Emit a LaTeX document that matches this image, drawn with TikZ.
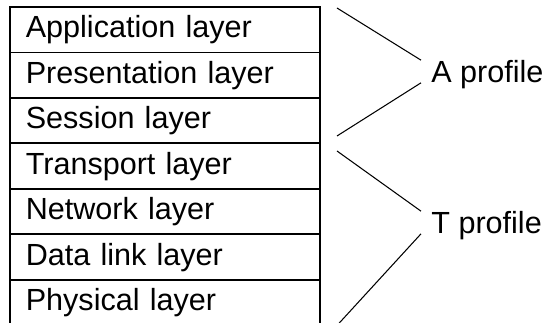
\documentclass[tikz,border=0pt]{standalone}
\usepackage{fontspec}
\setmainfont{Liberation Sans}
\usetikzlibrary{positioning}

\begin{document}
\begin{tikzpicture}[
							x=0.02cm, y=-0.02cm,
							layerbox/.style={rectangle, draw=black, line width=1.1pt, outer sep=0pt, minimum width=6.2cm, minimum height=0.91cm, inner xsep=9pt, inner ysep=0pt, text width=6.2cm-18pt, align=left, font=\fontsize{17.4}{21}\selectfont},
							profile/.style={anchor=west, inner xsep=5.7pt, inner ysep=0pt, text height=12.5pt, text depth=0pt, font=\fontsize{17.4}{21}\selectfont},
							link/.style={line width=0.6pt},
							]
							\useasboundingbox (0,0) rectangle (549,323);
							%Nodes
							\node[layerbox, anchor=north west] (app) 	at 	(10,7) 	{Application layer};
							\node[layerbox, below=0pt of app] 	(pres) 		{Presentation layer};
							\node[layerbox, below=0pt of pres] 	(sess) 		{Session layer};
							\node[layerbox, below=0pt of sess] 	(trans) 	{Transport layer};
							\node[layerbox, below=0pt of trans] 	(net) 		{Network layer};
							\node[layerbox, below=0pt of net] 	(link) 		{Data link layer};
							\node[layerbox, below=0pt of link] 	(phys) 		{Physical layer};
							\node[profile] 		(aprof) 	at 	(421,71.5) 	{A profile};
							\node[profile] 		(tprof) 	at 	(421,222.5) 	{T profile};
							
							%Braces
							\coordinate (a1) at (337,8);
							\coordinate (a2) at (337,136);
							\coordinate (t1) at (337,151);
							\coordinate (t2) at (337,325.5);
							\draw[link] (a1) -- (aprof.north west);
							\draw[link] (a2) -- (aprof.south west);
							\draw[link] (t1) -- (tprof.north west);
							\draw[link] (t2) -- (tprof.south west);
						\end{tikzpicture}
\end{document}
